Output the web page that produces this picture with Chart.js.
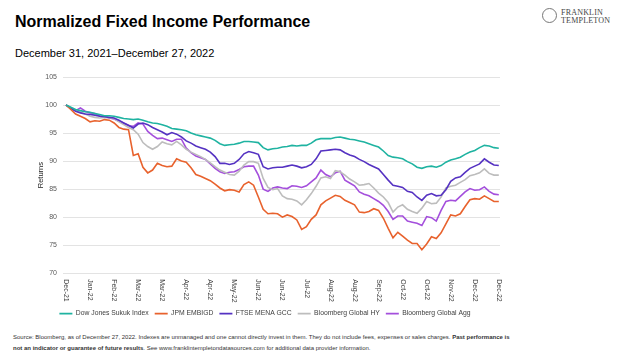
<!DOCTYPE html>
<html><head><meta charset="utf-8">
<script src="https://cdn.jsdelivr.net/npm/chart.js@4"></script>
<style>
html,body{margin:0;padding:0;background:#fff;}
body{width:624px;height:356px;position:relative;overflow:hidden;font-family:"Liberation Sans",Arial,sans-serif;}
#title{position:absolute;left:15px;top:13px;font-size:16px;font-weight:bold;color:#000;white-space:nowrap;}
#sub{position:absolute;left:15px;top:47px;font-size:11px;color:#000;white-space:nowrap;}
#logo{position:absolute;left:542px;top:7px;width:80px;height:20px;}
#logo .ic{position:absolute;left:0;top:1px;width:15px;height:15px;border-radius:50%;border:1.5px solid #777;box-sizing:border-box;}
#logo .t{position:absolute;left:19px;font-family:"Liberation Serif","DejaVu Serif",serif;font-size:8px;color:#444;letter-spacing:0.2px;white-space:nowrap;}
#foot{position:absolute;left:13px;top:332px;font-size:6px;line-height:10.5px;color:#333;white-space:nowrap;}
#wrap{position:absolute;left:0;top:0;width:540px;height:330px;}
</style></head><body>
<div id="title">Normalized Fixed Income Performance</div>
<div id="sub">December 31, 2021–December 27, 2022</div>
<div id="logo"><div class="ic"></div><div class="t" style="top:1px">FRANKLIN</div><div class="t" style="top:9px">TEMPLETON</div></div>
<div id="wrap"><canvas id="c" width="540" height="330"></canvas></div>
<div id="foot">Source: Bloomberg, as of December 27, 2022. Indexes are unmanaged and one cannot directly invest in them. They do not include fees, expenses or sales charges. <b>Past performance is</b><br><b>not an indicator or guarantee of future results</b>. See www.franklintempletondatasources.com for additional data provider information.</div>
<script>
const tickLabels = ['Dec-21','Jan-22','Feb-22','Mar-22','Mar-22','Apr-22','Apr-22','May-22','Jun-22','Jun-22','Jul-22','Aug-22','Aug-22','Sep-22','Oct-22','Oct-22','Nov-22','Dec-22','Dec-22'];
const tickDays = tickLabels.map((_, i) => i * 20);
const days = Array.from({length: 91}, (_, i) => i * 4);
const seriesNames = ['Dow Jones Sukuk Index','JPM EMBIGD','FTSE MENA GCC','Bloomberg Global HY','Bloomberg Global Agg'];
const sukuk = [100,99.6,99.2,99.0,98.8,98.7,98.5,98.3,98.1,98.1,
 98.0,97.8,97.6,97.5,97.4,97.5,97.3,97.0,96.8,96.7,
 96.5,96.2,95.8,95.7,95.6,95.4,95.0,94.7,94.5,94.3,
 94.1,93.7,93.1,92.8,92.9,93.0,93.2,93.5,93.5,93.4,
 93.3,92.4,92.0,92.2,92.3,92.5,92.6,92.8,92.7,92.8,
 92.8,93.2,93.8,94.0,94.0,94.0,94.2,94.3,94.1,93.9,
 93.8,93.6,93.4,93.1,92.8,92.5,91.8,91.0,90.7,90.6,
 90.4,89.9,89.5,88.9,88.7,89.0,89.1,88.9,89.2,89.8,
 90.2,90.4,90.7,91.2,91.6,91.9,92.4,92.8,92.7,92.4,
 92.3];
const embigd = [100,99.2,98.4,98.0,97.6,97.0,97.2,97.1,97.4,97.3,
 96.8,96.0,95.7,95.6,91.0,91.3,88.9,87.9,88.4,89.6,
 89.2,89.0,89.1,90.4,90.0,89.8,88.8,87.6,87.3,86.9,
 86.5,85.9,85.2,84.7,84.9,84.8,84.5,85.8,86.3,85.7,
 83.6,81.4,80.6,80.7,80.6,80.0,80.4,80.1,79.5,77.8,
 78.3,79.6,80.4,82.2,82.9,83.4,83.9,83.7,83.0,82.6,
 82.2,80.9,80.8,81.0,81.5,81.2,79.8,78.0,76.3,77.3,
 76.6,75.9,75.3,75.3,74.2,75.2,76.5,76.2,77.2,78.8,
 80.4,80.2,80.6,81.9,83.1,83.3,83.2,83.8,83.3,82.8,
 82.8];
const ftseGcc = [100,99.4,98.9,98.6,98.4,98.3,98.2,98.0,97.9,97.8,
 97.7,97.3,96.8,96.4,95.9,96.6,96.8,96.5,96.0,95.6,
 95.2,94.7,95.1,94.8,94.3,93.6,93.2,92.7,92.4,92.1,
 91.6,90.8,89.6,89.6,89.4,89.6,90.3,91.3,91.7,91.5,
 91.2,89.0,88.6,88.8,88.9,88.9,89.1,89.3,89.1,88.8,
 89.0,89.4,90.4,91.8,91.9,92.0,92.1,92.0,91.5,91.1,
 90.8,90.3,89.9,89.4,89.0,88.6,87.6,86.6,85.7,85.5,
 85.3,84.6,84.4,83.6,83.0,83.9,84.2,83.8,83.9,84.9,
 86.4,87.0,87.2,88.0,88.7,89.1,89.5,90.4,89.8,89.3,
 89.2];
const globalHy = [100,99.5,99.0,98.7,98.4,98.0,97.8,97.7,97.8,97.7,
 97.6,97.0,96.5,96.0,95.6,94.8,93.3,92.6,92.1,92.6,
 93.4,93.1,92.9,93.5,92.9,92.1,91.6,91.2,90.8,90.3,
 89.7,89.0,88.4,88.0,87.6,87.5,88.2,89.3,89.9,89.9,
 89.6,86.9,85.3,84.9,85.1,83.8,83.3,83.2,82.9,82.2,
 83.1,84.2,85.5,87.0,87.2,86.9,88.3,88.1,87.5,86.8,
 86.3,85.7,85.8,86.0,85.2,84.3,83.6,82.6,80.9,81.8,
 82.2,81.4,81.0,80.7,81.6,82.8,82.4,82.5,83.6,85.2,
 85.5,85.7,86.2,86.7,87.4,87.6,87.9,88.6,87.8,87.5,
 87.5];
const globalAgg = [100,99.4,99.0,99.5,98.9,98.6,98.5,98.1,98.0,97.7,
 97.5,97.1,96.8,96.3,96.2,96.8,96.6,95.3,94.6,94.0,
 94.1,93.8,93.5,93.9,93.9,92.3,91.5,90.9,90.6,90.3,
 89.5,88.7,88.1,87.8,88.0,88.1,88.5,89.0,89.1,89.1,
 87.5,85.0,84.6,85.2,85.4,85.2,85.1,85.6,85.5,85.3,
 85.6,86.3,87.0,88.4,87.6,87.2,87.9,88.2,86.6,86.1,
 85.6,84.5,84.1,83.8,83.3,82.8,82.1,81.0,79.6,80.2,
 80.2,79.3,79.1,78.9,78.5,80.1,79.9,79.3,81.2,82.8,
 83.0,82.9,83.7,84.5,85.1,84.8,84.9,85.4,84.6,84.1,
 84.0];
const yTicks = [70,75,80,85,90,95,100,105];

const colors = ['#1fb3a1','#e8622d','#5532c2','#bdbdbd','#a44fdc'];
const allSeries = [sukuk, embigd, ftseGcc, globalHy, globalAgg];

const datasets = allSeries.map((s, k) => ({
  label: seriesNames[k],
  data: s.map((v, i) => ({x: days[i], y: v})),
  borderColor: colors[k],
  backgroundColor: colors[k],
  borderWidth: 1.6,
  pointRadius: 0,
  pointStyle: 'line',
  tension: 0
}));

const tickLabelPlugin = {
  id: 'rotTicks',
  afterDraw(chart) {
    const xs = chart.scales.x, ctx = chart.ctx;
    ctx.save();
    ctx.fillStyle = '#404040';
    ctx.font = '7px "Liberation Sans", Arial, sans-serif';
    ctx.textAlign = 'left';
    ctx.textBaseline = 'middle';
    tickDays.forEach((d, i) => {
      const px = xs.getPixelForValue(d);
      ctx.save();
      ctx.translate(px, chart.chartArea.bottom + 6);
      ctx.rotate(Math.PI / 2);
      ctx.fillText(tickLabels[i], 0, 0);
      ctx.restore();
    });
    ctx.restore();
  }
};

new Chart(document.getElementById('c'), {
  type: 'line',
  data: {datasets},
  options: {
    responsive: false,
    animation: false,
    layout: {padding: {left: 30, right: 40, top: 77, bottom: 3}},
    plugins: {
      legend: {
        position: 'bottom',
        labels: {
          usePointStyle: true,
          pointStyleWidth: 13,
          boxHeight: 7,
          padding: 6,
          color: '#404040',
          font: {family: '"Liberation Sans", Arial, sans-serif', size: 6.8}
        }
      },
      tooltip: {enabled: false}
    },
    scales: {
      x: {
        type: 'linear',
        min: -2.5,
        max: 361,
        afterBuildTicks: (s) => { s.ticks = tickDays.map(v => ({value: v})); },
        afterFit: (s) => { s.height = 31; },
        grid: {display: false},
        border: {display: false},
        ticks: {display: false}
      },
      y: {
        min: 70,
        max: 105,
        afterBuildTicks: (s) => { s.ticks = yTicks.map(v => ({value: v})); },
        afterFit: (s) => { s.width = 33; },
        grid: {color: '#e3e3e3', lineWidth: 1, drawTicks: false},
        border: {display: false},
        ticks: {padding: 6, color: '#595959', font: {family: '"Liberation Sans", Arial, sans-serif', size: 7}},
        title: {display: true, text: 'Returns', color: '#222', padding: {top: 6, bottom: 0}, font: {family: '"Liberation Sans", Arial, sans-serif', size: 7.5}}
      }
    }
  },
  plugins: [tickLabelPlugin]
});
</script>
</body></html>
